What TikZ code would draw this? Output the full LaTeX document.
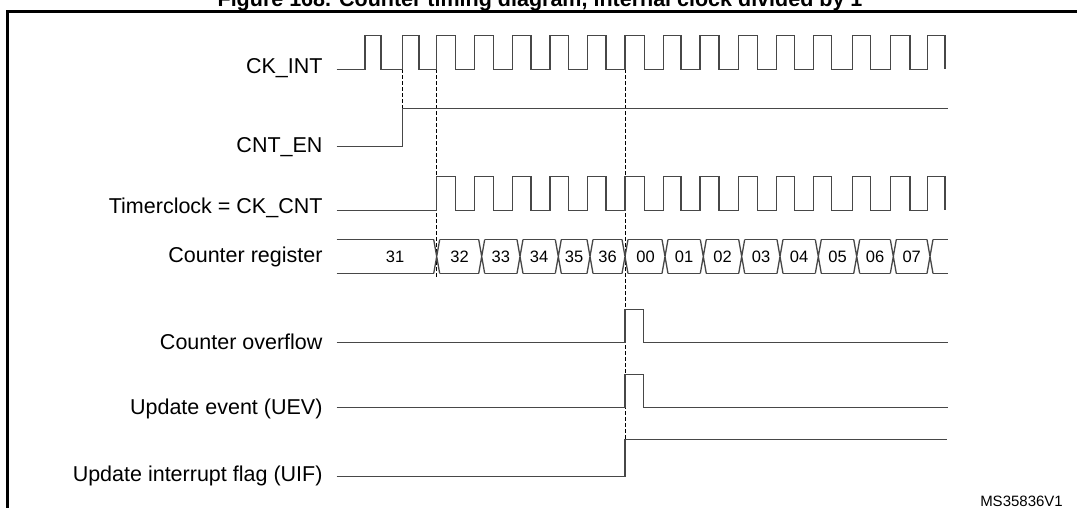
\documentclass[tikz,border=0pt]{standalone}
\usepackage{fontspec}
\setmainfont{Liberation Sans}
\begin{document}
\begin{tikzpicture}[x=1pt,y=-1pt,
  wave/.style={draw=black!72,line width=1.3pt,line join=miter},
  frame/.style={draw=black,line width=2.6pt},
  dashln/.style={draw=black,line width=1pt,dash pattern=on 3.5pt off 2.5pt},
  lbl/.style={anchor=base east,inner sep=0pt,font=\fontsize{21.5}{26}\selectfont},
  num/.style={inner sep=0pt,font=\fontsize{16.5}{19}\selectfont},
  ttl/.style={anchor=base,inner sep=0pt,font=\fontsize{21.5}{26}\selectfont\bfseries},
  tag/.style={anchor=base east,inner sep=0pt,font=\fontsize{15}{18}\selectfont}]
\useasboundingbox (0,0) rectangle (1077,508);
\clip (0,0) rectangle (1077,508);
\fill[white] (0,0) rectangle (1077,508);
% title and frame
\node[ttl] (title) at (540,6.5) {Figure 168. Counter timing diagram, internal clock divided by 1};
\draw[frame] (7.3,540) -- (7.3,11.7) -- (1100,11.7);
% labels
\node[lbl] (lckint) at (322.7,73.3) {CK\_INT};
\node[lbl] (lcnten) at (322.7,152.7) {CNT\_EN};
\node[lbl] (ltimer) at (322.7,214) {Timerclock = CK\_CNT};
\node[lbl] (lreg) at (322.7,262) {Counter register};
\node[lbl] (lovf) at (322.7,349.3) {Counter overflow};
\node[lbl] (luev) at (322.7,414.5) {Update event (UEV)};
\node[lbl] (luif) at (322.7,481.5) {Update interrupt flag (UIF)};
\node[tag] (ms) at (1063,506.5) {MS35836V1};
% dashed markers
\coordinate (d1t) at (402.3,69.3); \coordinate (d1b) at (402.3,146.7);
\coordinate (d2t) at (436.7,69.3); \coordinate (d2b) at (436.7,276.7);
\coordinate (d3t) at (625,69.3);   \coordinate (d3b) at (625,439.3);
\draw[dashln] (d1t) -- (d1b);
\draw[dashln] (d2t) -- (d2b);
\draw[dashln] (d3t) -- (d3b);
% CK_INT
\draw[wave] (336.7,69.3) foreach \r/\f in {365/381,402.3/419,436.7/455.7,474.3/493.3,512.3/531,550/568.3,587.3/606,625/644.3,663.3/681,700/719,738.3/757.3,776.7/794.3,813.3/831.7,852.3/870.7,890.7/910,927.7/945} { -- (\r,69.3) -- (\r,35.7) -- (\f,35.7) -- (\f,69.3) };
% CNT_EN
\draw[wave] (336.7,146.7) -- (402.3,146.7) -- (402.3,108.3) -- (948,108.3);
% Timerclock
\draw[wave] (336.7,210.5) foreach \r/\f in {436.7/455.7,474.3/493.3,512.3/531,550/568.3,587.3/606,625/644.3,663.3/681,700/719,738.3/757.3,776.7/794.3,813.3/831.7,852.3/870.7,890.7/910,927.7/945} { -- (\r,210.5) -- (\r,176.7) -- (\f,176.7) -- (\f,210.5) };
% Counter register
\foreach \c in {436.7,481.7,520,558.3,590,625,665,703.3,741.7,780,818.3,856.7,893.3,930}
  \draw[wave] (\c-3,239.5) -- (\c+3,273.5) (\c-3,273.5) -- (\c+3,239.5);
\foreach \a/\b/\t/\m in {336.7/433.7/31/395,439.7/478.7/32/459.5,484.7/517/33/500.8,523/555.3/34/539,561.3/587/35/574,593/622/36/607.5,628/662/00/645.5,668/700.3/01/684,706.3/738.7/02/722.5,744.7/777/03/761,783/815.3/04/799,821.3/853.7/05/837.5,859.7/890.3/06/875,896.3/927/07/911.7}
  { \draw[wave] (\a,239.5) -- (\b,239.5) (\a,273.5) -- (\b,273.5);
    \node[num] (n\t) at (\m,257) {\t}; }
\draw[wave] (933,239.5) -- (948.3,239.5) (933,273.5) -- (948.3,273.5);
% Counter overflow
\draw[wave] (336.7,342.7) -- (625,342.7) -- (625,309.3) -- (643.3,309.3) -- (643.3,342.7) -- (947.7,342.7);
% Update event
\draw[wave] (336.7,407.5) -- (625,407.5) -- (625,374.3) -- (643.3,374.3) -- (643.3,407.5) -- (948.3,407.5);
% UIF
\draw[wave] (336.7,476.5) -- (625,476.5) -- (625,439.3) -- (946.7,439.3);
\end{tikzpicture}
\end{document}
